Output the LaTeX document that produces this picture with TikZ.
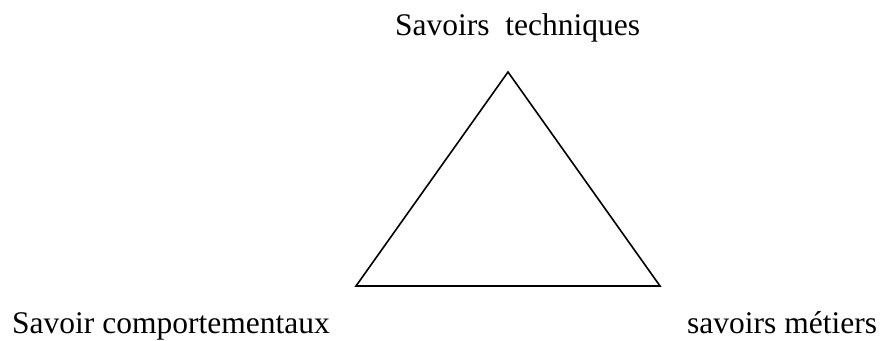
\documentclass[tikz,border=0pt]{standalone}
\usepackage{fontspec}
\setmainfont{Liberation Serif}
\begin{document}
\begin{tikzpicture}[x=1pt,y=-1pt,
  lbl/.style={inner sep=0pt,font=\fontsize{31.5}{36}\selectfont},
  tri/.style={draw=black,line width=1.6pt,line join=miter}]
\useasboundingbox (0,0) rectangle (880,340);
\coordinate (top) at (508,72);
\coordinate (bl) at (356,286);
\coordinate (br) at (660,286);
\draw[tri] (top) -- (bl) -- (br) -- cycle;
\node[lbl,anchor=base west] (t) at (395,35) {Savoirs\ \ techniques};
\node[lbl,anchor=base west] (l) at (12,333) {Savoir comportementaux};
\node[lbl,anchor=base west] (r) at (687,333) {savoirs métiers};
\end{tikzpicture}
\end{document}
